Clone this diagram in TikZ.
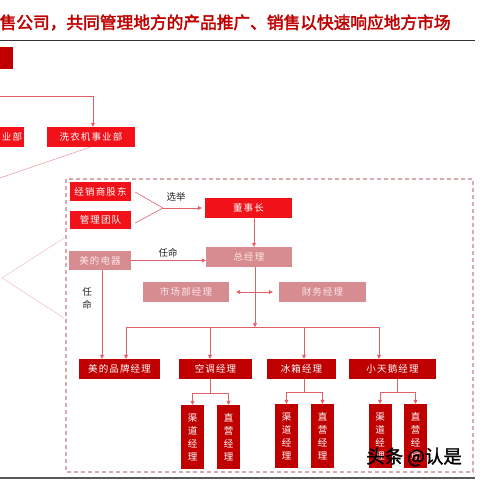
\documentclass[tikz,border=0pt]{standalone}
\usepackage{fontspec}
\newfontfamily\cjk{Noto Sans CJK SC}
\newfontfamily\cjkls[LetterSpace=12]{Noto Sans CJK SC}
\newfontfamily\cjkbold[FakeBold=2.5]{Noto Sans CJK SC}
\newfontfamily\cjkmark[FakeBold=1.5]{Noto Sans CJK SC}
\usetikzlibrary{arrows.meta}
\definecolor{brightred}{RGB}{240,18,24}
\definecolor{darkred}{RGB}{192,0,0}
\definecolor{dusty}{RGB}{214,140,145}
\definecolor{pinktext}{RGB}{252,232,232}
\definecolor{conn}{RGB}{226,96,104}
\definecolor{softconn}{RGB}{232,160,165}
\definecolor{lightpink}{RGB}{238,196,200}
\definecolor{dashcol}{RGB}{214,172,174}
\begin{document}
\begin{tikzpicture}[x=1pt,y=-1pt,
  box/.style={draw=none,inner sep=0pt,text=white,font=\cjkls\fontsize{9.5}{10}\selectfont},
  redbox/.style={box,fill=brightred},
  pinkbox/.style={box,fill=dusty,text=pinktext},
  dredbox/.style={box,fill=darkred,minimum height=20pt},
  vbox/.style={box,fill=darkred,minimum width=23pt,minimum height=64pt,align=center,font=\cjk\fontsize{9.5}{13}\selectfont},
  link/.style={draw=conn,line width=0.6pt},
  tip/.tip={Triangle[length=4pt,width=4pt]},
  arr/.style={link,-tip},
  lbl/.style={inner sep=0pt,text=black!85,font=\cjk\fontsize{9.5}{13}\selectfont}]
\useasboundingbox (0,0) rectangle (480,480);
% header
\node[anchor=west,inner sep=0pt,text=darkred,font=\cjkbold\fontsize{16.7}{20}\selectfont] (title) at (-0.5,22.5) {售公司，共同管理地方的产品推广、销售以快速响应地方市场};
\coordinate (r0) at (0,40); \coordinate (r1) at (475,40);
\draw[line width=0.8pt,black!80] (r0) -- (r1);
\fill[darkred] (0,47) rectangle (13,69);
% dashed frame
\draw[dashcol,line width=1.1pt,dash pattern=on 4pt off 3pt] (66,179) rectangle (473,472);
% top boxes
\node[redbox,minimum width=24pt,minimum height=20pt] (yb) at (12,137) {业部};
\node[redbox,minimum width=88pt,minimum height=20pt] (ws) at (91,137) {洗衣机事业部};
\coordinate (t0) at (0,96);
\draw[arr] (t0) -| ([xshift=2pt]ws.north);
\coordinate (d0) at (0,178);
\draw[draw=softconn,line width=0.6pt] ([xshift=-1pt]ws.south) -- (d0);
% left chevron
\coordinate (la) at (64,238); \coordinate (lv) at (2,278); \coordinate (lb) at (64,318);
\draw[lightpink,line width=0.6pt] (la) -- (lv) -- (lb);
% inside frame
\node[redbox,minimum width=61pt,minimum height=19pt] (jx) at (100.5,191.5) {经销商股东};
\node[redbox,minimum width=61pt,minimum height=18pt] (gl) at (100.5,220) {管理团队};
\node[redbox,minimum width=87pt,minimum height=20pt] (dsz) at (248.5,208) {董事长};
\node[pinkbox,minimum width=86pt,minimum height=20pt] (zjl) at (249,257) {总经理};
\node[pinkbox,minimum width=62pt,minimum height=19pt] (md) at (100,260.5) {美的电器};
\node[pinkbox,minimum width=86pt,minimum height=20pt] (sc) at (186,292) {市场部经理};
\node[pinkbox,minimum width=87pt,minimum height=20pt] (cw) at (322.5,292) {财务经理};
\coordinate (xj) at (163,208);
\draw[link] ([shift={(4,0.5)}]jx.east) -- (xj);
\draw[link] ([shift={(4,3)}]gl.east) -- (xj);
\draw[arr] (xj) -- ([xshift=-3pt]dsz.west);
\node[lbl] (lx) at (176,197) {选举};
\draw[arr] ([xshift=5.5pt]dsz.south) -- ([xshift=5pt]zjl.north);
\draw[arr] (md.east) -- (md.east -| zjl.west);
\node[lbl] (lr1) at (168,253) {任命};
\node[lbl,align=center] (lr2) at (87,298.5) {任\\命};
\draw[link,tip-tip] ([xshift=7pt]sc.east) -- ([xshift=-6pt]cw.west);
% level 2
\node[dredbox,minimum width=81pt] (mp) at (119.5,369) {美的品牌经理};
\node[dredbox,minimum width=73pt] (kt) at (215.5,369) {空调经理};
\node[dredbox,minimum width=69pt] (bx) at (301.5,369) {冰箱经理};
\node[dredbox,minimum width=87pt] (xt) at (392.5,369) {小天鹅经理};
\draw[arr] ([xshift=2pt]md.south) -- ([xshift=2pt]md.south |- mp.north);
\coordinate (bus) at (255,327);
\draw[arr] ([xshift=6pt]zjl.south) -- (bus);
\coordinate (b1) at (126,327); \coordinate (b2) at (210,327);
\coordinate (b3) at (304,327); \coordinate (b4) at (379,327);
\draw[link] (b1) -- (b4);
\draw[arr] (b1) -- (b1 |- mp.north);
\draw[arr] (b2) -- (b2 |- kt.north);
\draw[arr] (b3) -- (b3 |- bx.north);
\draw[arr] (b4) -- (b4 |- xt.north);
% level 3
\node[vbox] (kt1) at (192.5,437) {渠\\道\\经\\理};
\node[vbox] (kt2) at (228.5,437) {直\\营\\经\\理};
\node[vbox] (bx1) at (286.5,436) {渠\\道\\经\\理};
\node[vbox] (bx2) at (322.5,436) {直\\营\\经\\理};
\node[vbox] (xt1) at (380,436) {渠\\道\\经\\理};
\node[vbox] (xt2) at (415.5,436) {直\\营\\经\\理};
\coordinate (k0) at (210,393);
\draw[link] (kt.south -| k0) -- (k0);
\draw[link] (kt1.north |- k0) -- (kt2.north |- k0);
\draw[arr] (kt1.north |- k0) -- (kt1.north);
\draw[arr] (kt2.north |- k0) -- (kt2.north);
\coordinate (c0) at (304,392);
\draw[link] (bx.south -| c0) -- (c0);
\draw[link] (bx1.north |- c0) -- (bx2.north |- c0);
\draw[arr] (bx1.north |- c0) -- (bx1.north);
\draw[arr] (bx2.north |- c0) -- (bx2.north);
\coordinate (e0) at (397,392);
\draw[link] (xt.south -| e0) -- (e0);
\draw[link] (xt1.north |- e0) -- (xt2.north |- e0);
\draw[arr] (xt1.north |- e0) -- (xt1.north);
\draw[arr] (xt2.north |- e0) -- (xt2.north);
% bottom rule and watermark
\coordinate (z0) at (0,478); \coordinate (z1) at (475,478);
\draw[line width=1.5pt,black!65] (z0) -- (z1);
\node[anchor=west,inner sep=0pt,font=\cjkmark\fontsize{18.5}{20}\selectfont] (wm) at (366,457) {头条 @认是};
\end{tikzpicture}
\end{document}
